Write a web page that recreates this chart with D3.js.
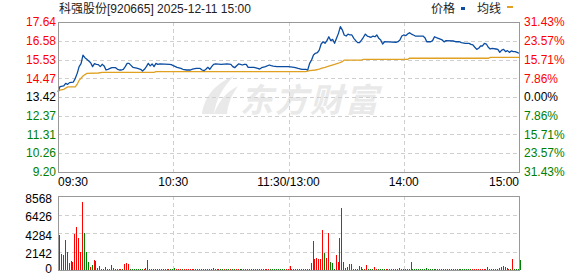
<!DOCTYPE html>
<html>
<head>
<meta charset="utf-8">
<script src="https://cdn.jsdelivr.net/npm/d3@7"></script>
<style>
html, body { margin: 0; padding: 0; background: #fff; }
svg { display: block; font-family: "Liberation Sans", Arial, "Noto Sans CJK SC", sans-serif; }
</style>
</head>
<body>
<svg id="chart" width="578" height="276"></svg>
<script>
var title = "科强股份[920665] 2025-12-11 15:00";
var legendNames = ["价格", "均线"];
var priceTicks = [17.64, 16.58, 15.53, 14.47, 13.42, 12.37, 11.31, 10.26, 9.20];
var pctTicks = ["31.43%", "23.57%", "15.71%", "7.86%", "0.00%", "7.86%", "15.71%", "23.57%", "31.43%"];
var volTicks = [8568, 6426, 4284, 2142, 0];
var timeIdx = [0, 60, 120, 180, 240];
var timeNames = ["09:30", "10:30", "11:30/13:00", "14:00", "15:00"];

// price line, minute index -> price
var priceMin = [0,1,3,4,5,6,8,9,10,11,12,13,14,15,16,17,18,19,20,21,22,23,24,25,26,28,30,31,32,33,34,35,36,37,38,39,41,43,44,45,46,47,48,49,50,51,52,53,58,59,60,
  62,64,65,67,69,70,72,74,75,76,77,78,79,80,81,82,85,88,90,91,92,93,94,95,96,97,98,99,102,104,105,106,108,110,111,112,114,120,
  123,125,127,129,130,131,132,133,134,135,136,137,138,139,140,141,142,143,144,145,146,147,148,149,150,151,152,153,154,155,156,157,158,159,160,161,162,163,164,165,166,167,168,169,170,172,176,177,178,179,
  180,181,182,183,184,185,186,190,191,192,194,195,196,197,198,200,201,202,206,207,209,210,212,214,215,216,217,218,219,220,221,222,223,224,225,226,228,229,230,231,232,233,234,235,236,237,238,239,240];
var priceVal = [13.72,14.00,14.04,14.19,14.13,14.23,14.26,14.47,14.75,15.13,15.30,15.78,15.63,15.54,15.45,15.35,15.13,15.30,15.26,15.24,15.13,15.26,15.17,14.94,14.98,15.07,15.07,14.98,14.94,14.94,14.98,15.13,15.31,15.31,15.20,15.09,15.05,14.98,14.88,14.98,15.13,15.31,15.17,15.28,15.13,15.31,15.26,15.28,15.26,15.24,15.18,
  15.09,15.03,14.98,14.94,14.94,14.99,15.03,15.03,14.94,14.90,14.98,15.09,14.98,15.13,15.26,15.28,15.26,15.28,15.26,15.13,15.07,15.18,15.28,15.26,15.22,15.26,15.26,15.09,15.09,15.03,14.99,15.07,15.13,15.22,15.18,15.16,15.13,15.13,
  15.09,15.03,14.98,14.98,14.94,15.31,15.50,15.78,15.88,15.91,16.06,16.40,16.53,16.44,16.59,16.81,16.59,16.66,16.44,16.72,17.00,17.38,17.20,16.91,16.85,16.96,16.91,16.91,16.72,16.59,16.48,16.48,16.62,16.78,16.96,16.85,16.81,16.78,16.85,16.81,16.91,16.72,16.63,16.40,16.53,16.52,16.50,16.53,16.63,16.85,
  16.91,16.87,16.96,17.04,16.96,16.91,16.85,16.85,16.76,16.53,16.53,16.59,16.81,16.76,16.72,16.63,16.52,16.59,16.57,16.53,16.53,16.48,16.44,16.44,16.38,16.35,16.22,16.10,16.16,16.29,16.29,16.44,16.40,16.22,16.12,16.16,16.12,16.10,15.93,16.06,16.10,15.97,16.03,15.93,16.01,15.97,15.97,15.93,15.88];

// average price line
var avgMin = [0,1,3,5,9,10,11,13,15,21,23,50,51,129,131,134,136,137,139,141,144,146,148,149,158,159,182,183,224,225,240];
var avgVal = [13.72,13.81,13.85,13.99,13.99,14.14,14.36,14.60,14.75,14.77,14.81,14.81,14.85,14.85,14.90,14.94,14.99,15.03,15.09,15.16,15.26,15.32,15.41,15.50,15.50,15.54,15.54,15.60,15.60,15.65,15.65];

// volume per minute and up(1)/down(-1)
var volume = [4050,1850,1740,3470,2050,810,1040,930,4170,4980,
  3710,2050,7870,4290,2080,930,350,580,1160,1040,
  230,460,120,120,350,120,120,580,230,120,
  120,120,120,120,690,810,690,120,120,120,
  120,120,120,120,120,230,1160,120,100,100,
  100,100,100,100,100,100,100,100,100,100,
  230,100,100,100,100,100,100,100,100,100,
  100,100,100,100,100,100,100,100,100,100,
  230,100,100,100,100,100,100,100,100,100,
  100,100,100,100,100,100,100,100,100,100,
  100,100,100,100,100,100,100,100,100,100,
  100,100,100,100,100,100,100,100,100,100,
  480,
  100,100,100,100,100,100,100,100,100,100,
  810,3360,1270,1390,1270,1270,4630,1970,1390,4280,
  930,810,100,1740,930,3710,7180,930,230,350,
  690,690,100,100,100,460,350,100,100,580,
  100,100,100,350,100,100,100,100,100,100,
  100,100,100,100,100,100,230,100,100,100,
  100,100,930,100,100,100,100,100,100,100,
  230,100,100,100,100,100,100,100,100,100,
  100,100,100,100,100,100,100,100,100,100,
  100,100,100,100,100,100,100,100,100,100,
  100,100,350,100,100,100,100,100,230,350,
  460,350,230,100,100,1270,100,100,100,1160];
var volDir = [1,1,-1,1,-1,-1,-1,1,1,1,
  1,1,1,-1,-1,-1,1,-1,1,1,
  -1,1,-1,-1,-1,-1,1,1,-1,-1,
  -1,-1,1,-1,1,1,1,-1,-1,-1,
  -1,-1,-1,-1,1,1,1,-1,-1,1,
  -1,-1,1,-1,-1,-1,1,1,-1,-1,
  -1,1,1,1,-1,1,1,1,1,1,
  1,1,1,1,1,-1,1,1,1,1,
  1,-1,-1,1,-1,-1,1,-1,-1,1,
  -1,-1,1,1,-1,-1,1,1,1,-1,
  1,1,1,1,-1,1,1,1,1,1,
  -1,-1,-1,-1,-1,-1,-1,-1,1,1,
  1,
  -1,-1,-1,-1,1,-1,-1,1,1,-1,
  1,1,1,1,1,1,1,-1,1,1,
  -1,-1,-1,1,1,1,1,-1,-1,-1,
  1,1,-1,-1,-1,1,1,-1,1,1,
  -1,-1,-1,1,1,-1,-1,-1,-1,1,
  -1,-1,1,1,-1,-1,1,-1,-1,-1,
  -1,1,1,-1,-1,-1,-1,-1,-1,-1,
  -1,-1,-1,-1,-1,1,-1,-1,-1,-1,
  -1,-1,-1,-1,-1,-1,-1,-1,-1,-1,
  -1,-1,-1,-1,1,1,1,1,1,1,
  1,1,1,1,1,-1,-1,-1,-1,1,
  -1,-1,-1,1,-1,1,-1,-1,-1,-1];

var svg = d3.select("#chart");
var left = 58, right = 519, pTop = 22, pBottom = 172, vTop = 196, vBottom = 270;
var red = "#ff0000", green = "#008000", ink = "#000";

var x = d3.scaleLinear().domain([0, 240]).range([left, right]);
var y = d3.scaleLinear().domain([9.20, 17.64]).range([pBottom, pTop]);
var yv = d3.scaleLinear().domain([0, 8568]).range([vBottom, vTop]);

function tickColor(i, mid) {
    return i < mid ? red : (i == mid ? ink : green);
}

svg.append("rect").attr("width", 578).attr("height", 276).attr("fill", "#fff");

// watermark
var wm = svg.append("g").attr("fill", "#e9e9e9");
wm.append("path").attr("d", "M202,114 C204,98 214,84 234,76 C222,88 216,100 214,114 Z");
wm.append("path").attr("d", "M214,114 C218,102 226,92 238,86 C231,96 228,104 227,114 Z");
wm.append("text").attr("x", 240).attr("y", 112)
    .attr("font-family", "Noto Sans CJK SC").attr("font-weight", "bold").attr("font-style", "italic")
    .attr("font-size", 33).attr("letter-spacing", 2).text("东方财富");

// grids
var grid = svg.append("g").attr("stroke", "#cfcfcf").attr("stroke-dasharray", "4,3").attr("shape-rendering", "crispEdges");
grid.selectAll(".hp").data(priceTicks.slice(1, -1)).enter().append("line")
    .attr("x1", left).attr("x2", right)
    .attr("y1", function(d) { return Math.round(y(d)) + 0.5; })
    .attr("y2", function(d) { return Math.round(y(d)) + 0.5; });
grid.selectAll(".hv").data(volTicks.slice(1, -1)).enter().append("line")
    .attr("x1", left).attr("x2", right)
    .attr("y1", function(d) { return Math.round(yv(d)) + 0.5; })
    .attr("y2", function(d) { return Math.round(yv(d)) + 0.5; });
grid.selectAll(".vp").data(timeIdx.slice(1, -1)).enter().append("line")
    .attr("x1", function(d) { return Math.round(x(d)) + 0.5; })
    .attr("x2", function(d) { return Math.round(x(d)) + 0.5; })
    .attr("y1", pTop).attr("y2", pBottom);
grid.selectAll(".vv").data(timeIdx.slice(1, -1)).enter().append("line")
    .attr("x1", function(d) { return Math.round(x(d)) + 0.5; })
    .attr("x2", function(d) { return Math.round(x(d)) + 0.5; })
    .attr("y1", vTop).attr("y2", vBottom);

// volume bars
svg.append("g").attr("shape-rendering", "crispEdges").selectAll("rect").data(volume).enter().append("rect")
    .attr("x", function(d, i) { return Math.round(x(i)) + 1; })
    .attr("width", 1)
    .attr("y", function(d) { return Math.min(Math.round(yv(d)), vBottom - 1); })
    .attr("height", function(d) { return vBottom - Math.min(Math.round(yv(d)), vBottom - 1); })
    .attr("fill", function(d, i) { return volDir[i] > 0 ? red : green; });

// lines
var line = d3.line().x(function(d) { return x(d[0]); }).y(function(d) { return y(d[1]); });
svg.append("path").datum(avgMin.map(function(m, i) { return [m, avgVal[i]]; }))
    .attr("d", line).attr("fill", "none").attr("stroke", "#e0a020").attr("stroke-width", 1.3);
svg.append("path").datum(priceMin.map(function(m, i) { return [m, priceVal[i]]; }))
    .attr("d", line).attr("fill", "none").attr("stroke", "#0b4da2").attr("stroke-width", 1.3)
    .attr("stroke-linejoin", "round");

// frames
var frame = svg.append("g").attr("fill", "none").attr("stroke", "#999").attr("shape-rendering", "crispEdges");
frame.append("rect").attr("x", left + 0.5).attr("y", pTop + 0.5).attr("width", right - left).attr("height", pBottom - pTop);
frame.append("rect").attr("x", left + 0.5).attr("y", vTop + 0.5).attr("width", right - left).attr("height", vBottom - vTop);

// axis labels
var lab = svg.append("g").attr("font-size", 12);
lab.selectAll(".pl").data(priceTicks).enter().append("text")
    .attr("x", 56).attr("y", function(d) { return y(d); }).attr("dy", "0.35em")
    .attr("text-anchor", "end").attr("fill", function(d, i) { return tickColor(i, 4); })
    .text(function(d) { return d.toFixed(2); });
lab.selectAll(".pr").data(pctTicks).enter().append("text")
    .attr("x", 524).attr("y", function(d, i) { return y(priceTicks[i]); }).attr("dy", "0.35em")
    .attr("fill", function(d, i) { return tickColor(i, 4); })
    .text(function(d) { return d; });
lab.selectAll(".vl").data(volTicks).enter().append("text")
    .attr("x", 52).attr("y", function(d) { return Math.min(yv(d) + 2.5, 268.5); }).attr("dy", "0.35em")
    .attr("text-anchor", "end").attr("fill", ink)
    .text(function(d) { return d; });
lab.selectAll(".tl").data(timeIdx).enter().append("text")
    .attr("x", function(d) { return x(d); }).attr("y", 186)
    .attr("text-anchor", function(d, i) { return i == 0 ? "start" : (i == timeIdx.length - 1 ? "end" : "middle"); })
    .attr("fill", ink)
    .text(function(d, i) { return timeNames[i]; });

// title and legend
lab.append("text").attr("x", 59).attr("y", 13).attr("fill", "#222").text(title);
lab.append("text").attr("x", 431).attr("y", 13).attr("fill", "#222").text(legendNames[0]);
lab.append("rect").attr("x", 461).attr("y", 7).attr("width", 4).attr("height", 3).attr("fill", "#0b4da2");
lab.append("text").attr("x", 477).attr("y", 13).attr("fill", "#222").text(legendNames[1]);
lab.append("rect").attr("x", 507).attr("y", 6).attr("width", 6).attr("height", 2).attr("fill", "#e0a020");
</script>
</body>
</html>
